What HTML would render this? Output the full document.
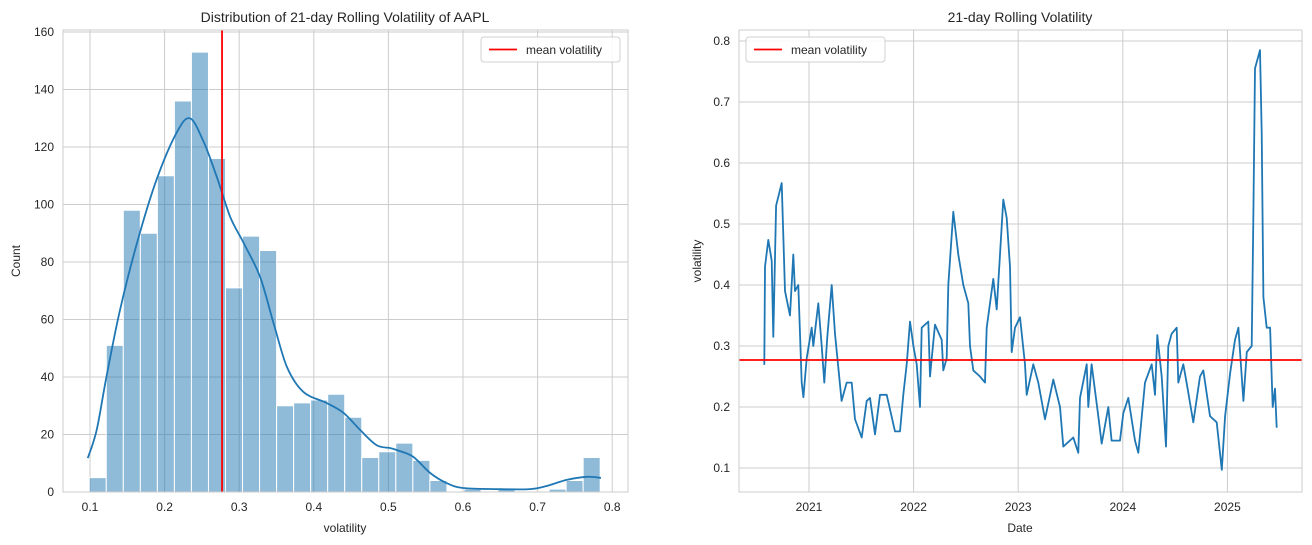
<!DOCTYPE html>
<html><head><meta charset="utf-8">
<style>
html,body{margin:0;padding:0;background:#fff;}
svg{display:block;font-family:"Liberation Sans",Arial,sans-serif;}
text{fill:#262626;}
</style></head>
<body>
<svg id="chart" width="1312" height="545" viewBox="0 0 1312 545" xmlns="http://www.w3.org/2000/svg">
<rect width="1312" height="545" fill="#fff"/>
<g id="left"></g>
<g id="right"></g>
</svg>
<script>
// ---- Left histogram data ----
const binStart = 0.099;
const binWidth = 0.02283;
const binCounts = [5,51,98,90,110,136,153,116,71,89,84,30,31,32,34,26,12,14,17,11,4,0,1,0,1,0,0,1,4,12];
const kdeX = [0.097,0.109,0.122,0.140,0.163,0.189,0.216,0.234,0.252,0.270,0.288,0.306,0.328,0.346,0.364,0.386,0.417,0.440,0.462,0.484,0.502,0.511,0.533,0.556,0.578,0.600,0.645,0.690,0.712,0.739,0.766,0.785];
const kdeY = [11.8,21.6,40,63,86.6,108.5,124.9,130,122,109.6,95.7,86.6,74.8,58.8,43.5,34.8,31,27.5,21.6,16.3,15.3,14.6,12.3,6.6,3.1,1.4,1.0,1.0,2.1,4.2,5.3,4.9];
const meanVol = 0.277;
const histXTicks = [0.1,0.2,0.3,0.4,0.5,0.6,0.7,0.8];
const histYTicks = [0,20,40,60,80,100,120,140,160];
// ---- Right line data ----
const dates = [2020.573,2020.579,2020.611,2020.643,2020.659,2020.685,2020.739,2020.771,2020.818,2020.850,2020.866,2020.898,2020.930,2020.946,2020.978,2021.026,2021.041,2021.089,2021.121,2021.146,2021.175,2021.217,2021.249,2021.280,2021.312,2021.360,2021.408,2021.440,2021.504,2021.552,2021.583,2021.631,2021.679,2021.743,2021.822,2021.870,2021.902,2021.934,2021.966,2021.998,2022.030,2022.061,2022.077,2022.141,2022.157,2022.205,2022.269,2022.284,2022.316,2022.332,2022.380,2022.427,2022.475,2022.523,2022.539,2022.571,2022.635,2022.683,2022.699,2022.762,2022.794,2022.826,2022.858,2022.890,2022.922,2022.938,2022.969,2023.017,2023.065,2023.081,2023.144,2023.192,2023.256,2023.336,2023.400,2023.431,2023.527,2023.575,2023.591,2023.655,2023.670,2023.702,2023.766,2023.798,2023.861,2023.893,2023.973,2024.005,2024.053,2024.117,2024.148,2024.212,2024.276,2024.308,2024.330,2024.372,2024.413,2024.435,2024.467,2024.515,2024.531,2024.578,2024.610,2024.674,2024.738,2024.770,2024.834,2024.898,2024.946,2024.978,2025.026,2025.073,2025.105,2025.153,2025.185,2025.232,2025.248,2025.264,2025.312,2025.328,2025.344,2025.376,2025.408,2025.433,2025.455,2025.471];
const vols = [0.269,0.43,0.474,0.44,0.315,0.53,0.567,0.39,0.35,0.45,0.39,0.40,0.24,0.216,0.28,0.33,0.30,0.37,0.30,0.24,0.315,0.40,0.32,0.265,0.21,0.24,0.24,0.18,0.15,0.21,0.215,0.155,0.22,0.22,0.16,0.16,0.22,0.27,0.34,0.30,0.27,0.20,0.33,0.34,0.25,0.335,0.31,0.26,0.28,0.40,0.52,0.45,0.40,0.37,0.30,0.26,0.25,0.24,0.33,0.41,0.36,0.45,0.54,0.51,0.43,0.29,0.33,0.347,0.27,0.22,0.27,0.24,0.18,0.245,0.20,0.135,0.15,0.125,0.215,0.27,0.20,0.27,0.185,0.14,0.20,0.145,0.145,0.19,0.215,0.145,0.125,0.24,0.27,0.22,0.318,0.25,0.135,0.30,0.32,0.33,0.24,0.27,0.24,0.175,0.25,0.26,0.185,0.175,0.097,0.185,0.255,0.31,0.33,0.21,0.29,0.30,0.505,0.755,0.785,0.65,0.38,0.33,0.33,0.20,0.23,0.166];
const lineYTicks = [0.1,0.2,0.3,0.4,0.5,0.6,0.7,0.8];
const lineXTicks = [2021,2022,2023,2024,2025];

const NS="http://www.w3.org/2000/svg";
function mk(parent,tag,attrs,txt){const e=document.createElementNS(NS,tag);for(const k in attrs)e.setAttribute(k,attrs[k]);if(txt!==undefined)e.textContent=txt;parent.appendChild(e);return e;}
function smooth(pts){let d='M'+pts[0][0].toFixed(1)+','+pts[0][1].toFixed(1);
for(let i=0;i<pts.length-1;i++){const p0=pts[Math.max(0,i-1)],p1=pts[i],p2=pts[i+1],p3=pts[Math.min(pts.length-1,i+2)];
const c1=[p1[0]+(p2[0]-p0[0])/6,p1[1]+(p2[1]-p0[1])/6],c2=[p2[0]-(p3[0]-p1[0])/6,p2[1]-(p3[1]-p1[1])/6];
d+='C'+c1[0].toFixed(1)+','+c1[1].toFixed(1)+' '+c2[0].toFixed(1)+','+c2[1].toFixed(1)+' '+p2[0].toFixed(1)+','+p2[1].toFixed(1);}
return d;}

// ===== Left =====
const L=document.getElementById('left');
const lx0=63,lx1=628,ly0=30,ly1=492;
const hx=v=>90+(v-0.1)*746;
const hy=c=>492-c*2.875;
histXTicks.forEach(t=>{const g=mk(L,'line',{x1:hx(t),x2:hx(t),y1:ly0,y2:ly1,stroke:'#cccccc','stroke-width':1});

const tx=mk(L,'text',{x:hx(t),y:511,'font-size':12,'text-anchor':'middle'},t.toFixed(1));
});
histYTicks.forEach(t=>{const g=mk(L,'line',{x1:lx0,x2:lx1,y1:hy(t),y2:hy(t),stroke:'#cccccc','stroke-width':1});

const tx=mk(L,'text',{x:54,y:hy(t)+4,'font-size':12,'text-anchor':'end'},String(t));
});
binCounts.forEach((c,i)=>{if(c<=0)return;const a=binStart+i*binWidth;
const r=mk(L,'rect',{x:hx(a),y:hy(c),width:hx(a+binWidth)-hx(a),height:hy(0)-hy(c),fill:'#1f77b4','fill-opacity':0.5,stroke:'#fff','stroke-width':1});
});
const kde=mk(L,'path',{d:smooth(kdeX.map((v,i)=>[hx(v),hy(kdeY[i])])),fill:'none',stroke:'#1f77b4','stroke-width':1.8,'stroke-linejoin':'round'});

const ml=mk(L,'line',{x1:hx(meanVol),x2:hx(meanVol),y1:ly0,y2:ly1,stroke:'#ff0000','stroke-width':1.8});

mk(L,'rect',{x:lx0,y:ly0,width:lx1-lx0,height:ly1-ly0,fill:'none',stroke:'#cccccc','stroke-width':1});
const lt=mk(L,'text',{x:345,y:22,'font-size':14,'text-anchor':'middle'},'Distribution of 21-day Rolling Volatility of AAPL');

const lxl=mk(L,'text',{x:345,y:532,'font-size':12,'text-anchor':'middle'},'volatility');

const lyl=mk(L,'text',{x:20,y:261,'font-size':12,'text-anchor':'middle',transform:'rotate(-90 20 261)'},'Count');

const lg=mk(L,'g',{});
mk(lg,'rect',{x:481,y:37,width:139,height:25,rx:3,fill:'#fff','fill-opacity':0.85,stroke:'#d0d0d0'});
mk(lg,'line',{x1:489,x2:517,y1:49.5,y2:49.5,stroke:'#ff0000','stroke-width':1.8});
mk(lg,'text',{x:526,y:54,'font-size':12},'mean volatility');

// ===== Right =====
const R=document.getElementById('right');
const rx0=739,rx1=1302,ry0=30,ry1=492;
const dx=d=>809+(d-2021)*104.6;
const vy=v=>468-(v-0.1)*610;
lineXTicks.forEach(t=>{const g=mk(R,'line',{x1:dx(t),x2:dx(t),y1:ry0,y2:ry1,stroke:'#cccccc','stroke-width':1});

const tx=mk(R,'text',{x:dx(t),y:511,'font-size':12,'text-anchor':'middle'},String(t));
});
lineYTicks.forEach(t=>{const g=mk(R,'line',{x1:rx0,x2:rx1,y1:vy(t),y2:vy(t),stroke:'#cccccc','stroke-width':1});

const tx=mk(R,'text',{x:730,y:vy(t)+4,'font-size':12,'text-anchor':'end'},t.toFixed(1));
});
let lp=dates.map((d,i)=>(i?'L':'M')+dx(d).toFixed(1)+','+vy(vols[i]).toFixed(1)).join('');
const ln=mk(R,'path',{d:lp,fill:'none',stroke:'#1f77b4','stroke-width':1.8,'stroke-linejoin':'round'});

const mh=mk(R,'line',{x1:rx0,x2:rx1,y1:vy(meanVol),y2:vy(meanVol),stroke:'#ff0000','stroke-width':1.8});

mk(R,'rect',{x:rx0,y:ry0,width:rx1-rx0,height:ry1-ry0,fill:'none',stroke:'#cccccc','stroke-width':1});
const rt=mk(R,'text',{x:1020,y:22,'font-size':14,'text-anchor':'middle'},'21-day Rolling Volatility');

const rxl=mk(R,'text',{x:1020,y:532,'font-size':12,'text-anchor':'middle'},'Date');

const ryl=mk(R,'text',{x:701,y:261,'font-size':12,'text-anchor':'middle',transform:'rotate(-90 701 261)'},'volatility');

const rg=mk(R,'g',{});
mk(rg,'rect',{x:746,y:37,width:139,height:25,rx:3,fill:'#fff','fill-opacity':0.85,stroke:'#d0d0d0'});
mk(rg,'line',{x1:754,x2:782,y1:49.5,y2:49.5,stroke:'#ff0000','stroke-width':1.8});
mk(rg,'text',{x:791,y:54,'font-size':12},'mean volatility');
</script>
</body></html>
